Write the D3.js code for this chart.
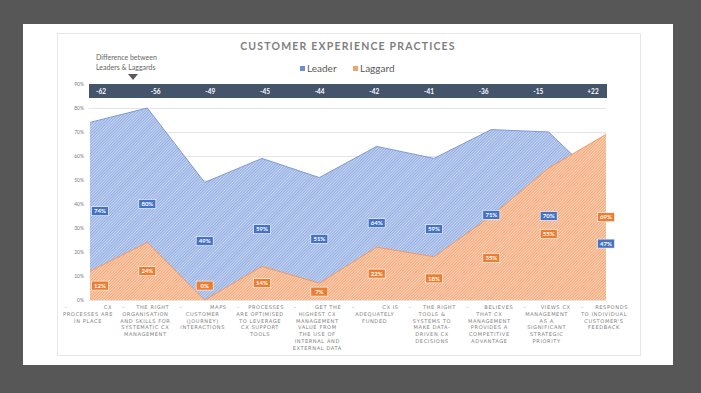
<!DOCTYPE html>
<html>
<head>
<meta charset="utf-8">
<script src="https://cdn.jsdelivr.net/npm/d3@7"></script>
<style>
  html, body { margin: 0; padding: 0; background: #575757; }
  svg { display: block; font-family: Lato, "DejaVu Sans", sans-serif; }
</style>
</head>
<body>
<svg id="chart" width="701" height="393"></svg>
<script>
// categories, one line per entry (first line carries the bullet dash)
var categories = [
  ["CX", "PROCESSES ARE", "IN PLACE"],
  ["THE RIGHT", "ORGANISATION", "AND SKILLS FOR", "SYSTEMATIC CX", "MANAGEMENT"],
  ["MAPS", "CUSTOMER", "(JOURNEY)", "INTERACTIONS"],
  ["PROCESSES", "ARE OPTIMISED", "TO LEVERAGE", "CX SUPPORT", "TOOLS"],
  ["GET THE", "HIGHEST CX", "MANAGEMENT", "VALUE FROM", "THE USE OF", "INTERNAL AND", "EXTERNAL DATA"],
  ["CX IS", "ADEQUATELY", "FUNDED"],
  ["THE RIGHT", "TOOLS &", "SYSTEMS TO", "MAKE DATA-", "DRIVEN CX", "DECISIONS"],
  ["BELIEVES", "THAT CX", "MANAGEMENT", "PROVIDES A", "COMPETITIVE", "ADVANTAGE"],
  ["VIEWS CX", "MANAGEMENT", "AS A", "SIGNIFICANT", "STRATEGIC", "PRIORITY"],
  ["RESPONDS", "TO INDIVIDUAL", "CUSTOMER'S", "FEEDBACK"]
];
var leader  = [0.74, 0.80, 0.49, 0.59, 0.51, 0.64, 0.59, 0.71, 0.70, 0.47];
var laggard = [0.12, 0.24, 0.00, 0.14, 0.07, 0.22, 0.18, 0.35, 0.55, 0.69];
var differences = ["-62", "-56", "-49", "-45", "-44", "-42", "-41", "-36", "-15", "+22"];
var yTicks = [0, 0.1, 0.2, 0.3, 0.4, 0.5, 0.6, 0.7, 0.8, 0.9];
var seriesNames = ["Leader", "Laggard"];

var svg = d3.select('#chart');

// card + inner frame
svg.append('rect').attr('x', 23).attr('y', 24).attr('width', 650).attr('height', 341).attr('fill', '#ffffff');
svg.append('rect').attr('x', 57.5).attr('y', 33.5).attr('width', 583).attr('height', 322)
  .attr('fill', '#ffffff').attr('stroke', '#e6e6e6').attr('stroke-width', 1);

// hatch patterns
var defs = svg.append('defs');
function hatch(id, bg, line) {
  var p = defs.append('pattern').attr('id', id).attr('patternUnits', 'userSpaceOnUse')
    .attr('width', 2).attr('height', 2).attr('patternTransform', 'rotate(45)');
  p.append('rect').attr('width', 2).attr('height', 2).attr('fill', bg);
  p.append('rect').attr('width', 0.9).attr('height', 2).attr('fill', line);
}
hatch('hatchBlue', '#c6d5f2', '#8eaae0');
hatch('hatchOrange', '#fad3ba', '#f3a26f');

var x = d3.scalePoint().domain(d3.range(categories.length)).range([90, 606]);
var y = d3.scaleLinear().domain([0, 0.9]).range([300, 84]);
var xDiff = d3.scalePoint().domain(d3.range(differences.length)).range([101, 593]);

// gridlines
svg.append('g').attr('transform', 'translate(89,0)')
  .call(d3.axisLeft(y).tickValues(yTicks).tickSize(-517).tickFormat(''))
  .call(function(g) {
    g.select('.domain').remove();
    g.selectAll('line').attr('stroke', '#dedede').attr('stroke-width', 0.8);
  });

// y tick labels
svg.append('g').attr('transform', 'translate(84,0)')
  .call(d3.axisLeft(y).tickValues(yTicks).tickSize(0).tickPadding(0).tickFormat(d3.format('.0%')))
  .call(function(g) {
    g.select('.domain').remove();
    g.selectAll('text').attr('fill', '#7a7a7a').attr('font-size', 5).attr('font-family', 'Lato, sans-serif');
  });

// areas
var area = function(vals) {
  return d3.area().x(function(d, i) { return x(i); }).y0(y(0)).y1(function(d) { return y(d); })(vals);
};
var line = function(vals) {
  return d3.line().x(function(d, i) { return x(i); }).y(function(d) { return y(d); })(vals);
};
svg.append('path').attr('d', area(leader)).attr('fill', 'url(#hatchBlue)');
svg.append('path').attr('d', line(leader)).attr('fill', 'none').attr('stroke', '#7d9ad6').attr('stroke-width', 1);
svg.append('path').attr('d', area(laggard)).attr('fill', 'url(#hatchOrange)');
svg.append('path').attr('d', line(laggard)).attr('fill', 'none').attr('stroke', '#f19a66').attr('stroke-width', 1);

// difference band
svg.append('rect').attr('x', 89).attr('y', y(0.9)).attr('width', 518).attr('height', 14).attr('fill', '#44546a');
svg.append('g').selectAll('text').data(differences).enter().append('text')
  .attr('x', function(d, i) { return xDiff(i); })
  .attr('y', y(0.9) + 9.5)
  .attr('text-anchor', 'middle').attr('fill', '#ffffff')
  .attr('font-size', 6.5).attr('font-weight', 'bold')
  .text(function(d) { return d; });

// data labels
function labels(vals, color) {
  var g = svg.append('g');
  var items = g.selectAll('g').data(vals).enter().append('g')
    .attr('transform', function(d, i) {
      var cx = Math.max(x(i), 100);
      var cy = y(d === 0 ? 0.06 : d / 2);
      return 'translate(' + cx + ',' + cy + ')';
    });
  items.append('rect').attr('x', -8.5).attr('y', -4.5).attr('width', 17).attr('height', 9)
    .attr('fill', color).attr('stroke', '#ffffff').attr('stroke-width', 0.6);
  items.append('text').attr('text-anchor', 'middle').attr('y', 2.2)
    .attr('fill', '#ffffff').attr('font-size', 6).attr('font-weight', 'bold')
    .text(function(d) { return Math.round(d * 100) + '%'; });
}
labels(leader, '#4472c4');
labels(laggard, '#ed7d31');

// category labels
var cat = svg.append('g').selectAll('g').data(categories).enter().append('g')
  .attr('transform', function(d, i) { return 'translate(' + (x(i) - 2) + ',309)'; })
  .attr('fill', '#7f7f7f').attr('font-size', 5.1).attr('letter-spacing', 0.6)
  .attr('font-family', '"DejaVu Sans", sans-serif');
cat.append('text').attr('x', -23).attr('text-anchor', 'start').text('-');
cat.append('text').attr('x', 24).attr('text-anchor', 'end').text(function(d) { return d[0]; });
cat.each(function(d) {
  d3.select(this).selectAll('text.rest').data(d.slice(1)).enter().append('text')
    .attr('class', 'rest').attr('text-anchor', 'middle')
    .attr('y', function(t, j) { return (j + 1) * 6.8; })
    .text(function(t) { return t; });
});

// title
svg.append('text').attr('x', 348).attr('y', 50).attr('text-anchor', 'middle')
  .attr('fill', '#7f7f7f').attr('font-size', 10.5).attr('font-weight', 'bold').attr('letter-spacing', 1.2)
  .text('CUSTOMER EXPERIENCE PRACTICES');

// legend
var legendColors = ['#6f8fd2', '#f1a06e'];
var legendX = [300, 353];
var leg = svg.append('g').selectAll('g').data(seriesNames).enter().append('g')
  .attr('transform', function(d, i) { return 'translate(' + legendX[i] + ',66)'; });
leg.append('rect').attr('width', 5).attr('height', 5).attr('fill', function(d, i) { return legendColors[i]; });
leg.append('text').attr('x', 7).attr('y', 5.5).attr('fill', '#595959').attr('font-size', 10)
  .text(function(d) { return d; });

// annotation
svg.append('text').attr('x', 96).attr('y', 60).attr('fill', '#666666').attr('font-size', 7).text('Difference between');
svg.append('text').attr('x', 96).attr('y', 70).attr('fill', '#666666').attr('font-size', 7).text('Leaders & Laggards');
svg.append('path').attr('d', 'M128,74 L138,74 L133,80 Z').attr('fill', '#595959');
</script>
</body>
</html>
